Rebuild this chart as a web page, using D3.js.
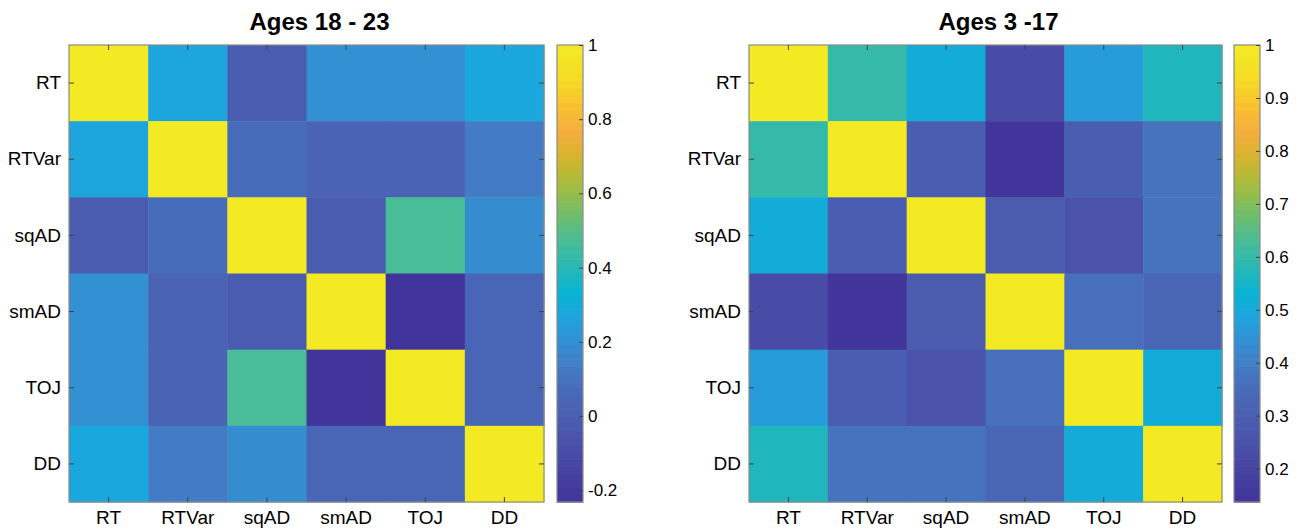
<!DOCTYPE html>
<meta charset="utf-8">
<script src="https://d3js.org/d3.v7.min.js"></script>
<style>
  body { margin: 0; background: #fff; }
  text { font-family: "Liberation Sans", Arial, sans-serif; fill: #000; }
</style>
<div id="my_dataviz"></div>
<script>

// variable names (rows and columns)
var labels = ["RT", "RTVar", "sqAD", "smAD", "TOJ", "DD"];

// correlation matrix, ages 18 - 23
var adultCorr = [
  [1.00, 0.27, -0.01, 0.20, 0.20, 0.28],
  [0.27, 1.00, 0.08, 0.03, 0.03, 0.13],
  [-0.01, 0.08, 1.00, -0.01, 0.47, 0.19],
  [0.20, 0.03, -0.01, 1.00, -0.232, 0.04],
  [0.20, 0.03, 0.47, -0.232, 1.00, 0.04],
  [0.28, 0.13, 0.19, 0.04, 0.04, 1.00]
];

// correlation matrix, ages 3 - 17
var childCorr = [
  [1.00, 0.60, 0.51, 0.23, 0.47, 0.57],
  [0.60, 1.00, 0.30, 0.137, 0.30, 0.37],
  [0.51, 0.30, 1.00, 0.29, 0.255, 0.37],
  [0.23, 0.137, 0.29, 1.00, 0.36, 0.33],
  [0.47, 0.30, 0.255, 0.36, 1.00, 0.51],
  [0.57, 0.37, 0.37, 0.33, 0.51, 1.00]
];

// colorbar tick values
var adultTicks = [-0.2, 0, 0.2, 0.4, 0.6, 0.8, 1];
var childTicks = [0.2, 0.3, 0.4, 0.5, 0.6, 0.7, 0.8, 0.9, 1];

// parula-like colormap, as it looks in the picture (0 = bottom, 1 = top)
var cmapPos = [0, 0.08, 0.16, 0.24, 0.30, 0.36, 0.41, 0.46, 0.52, 0.57, 0.63, 0.69, 0.75, 0.81, 0.87, 0.93, 1];
var cmapCol = ["#41349a", "#4745a2", "#4b58ad", "#4969b7", "#427dc5", "#3093d5", "#1ca6de", "#08b3d2",
               "#2bb9b2", "#48bd98", "#6fbd6a", "#a3bc42", "#d2b52c", "#f4ad3e", "#f9c22f", "#f5dd25", "#f3ea24"];
var cmap = d3.scaleLinear().domain(cmapPos).range(cmapCol).clamp(true);

var W = 1299, H = 529;
var svg = d3.select("#my_dataviz")
  .append("svg")
    .attr("width", W)
    .attr("height", H);

function drawPanel(opt) {
  var g = svg.append("g");
  var left = opt.left, top = 45, width = opt.width, height = 457;

  var x = d3.scaleBand().domain(labels).range([left, left + width]);
  var y = d3.scaleBand().domain(labels).range([top, top + height]);

  var flat = d3.merge(opt.data);
  var ext = d3.extent(flat);
  var toT = d3.scaleLinear().domain(ext).range([0, 1]);

  // cells
  var cells = [];
  opt.data.forEach(function(row, i) {
    row.forEach(function(v, j) { cells.push({r: labels[i], c: labels[j], v: v}); });
  });
  g.selectAll("rect.cell")
    .data(cells)
    .enter()
    .append("rect")
      .attr("class", "cell")
      .attr("x", function(d) { return x(d.c); })
      .attr("y", function(d) { return y(d.r); })
      .attr("width", x.bandwidth() + 0.5)
      .attr("height", y.bandwidth() + 0.5)
      .attr("fill", function(d) { return cmap(toT(d.v)); });

  // box
  g.append("rect")
    .attr("x", left).attr("y", top)
    .attr("width", width).attr("height", height)
    .attr("fill", "none").attr("stroke", "#8a8a8a").attr("stroke-width", 1.2);

  // axes, ticks pointing inside
  var xb = g.append("g").attr("transform", "translate(0," + (top + height) + ")")
    .call(d3.axisBottom(x).tickSize(-5).tickPadding(9));
  var yl = g.append("g").attr("transform", "translate(" + left + ",0)")
    .call(d3.axisLeft(y).tickSize(-5).tickPadding(8));
  var xt = g.append("g").attr("transform", "translate(0," + top + ")")
    .call(d3.axisTop(x).tickSize(-5).tickFormat(""));
  var yr = g.append("g").attr("transform", "translate(" + (left + width) + ",0)")
    .call(d3.axisRight(y).tickSize(-5).tickFormat(""));
  [xb, yl, xt, yr].forEach(function(a) {
    a.select(".domain").remove();
    a.selectAll(".tick line").attr("stroke", "#444");
    a.selectAll("text").style("font-size", "19px").attr("fill", "#000");
  });

  // colorbar
  var cbLeft = opt.cbLeft, cbW = 26;
  var cy = d3.scaleLinear().domain(ext).range([top + height, top]);
  var nLev = 64;
  var levels = d3.range(nLev);
  g.selectAll("rect.lev")
    .data(levels)
    .enter()
    .append("rect")
      .attr("class", "lev")
      .attr("x", cbLeft)
      .attr("y", function(k) { return top + height - (k + 1) * height / nLev; })
      .attr("width", cbW)
      .attr("height", height / nLev + 0.6)
      .attr("fill", function(k) { return cmap((k + 0.5) / nLev); });
  g.append("rect")
    .attr("x", cbLeft).attr("y", top)
    .attr("width", cbW).attr("height", height)
    .attr("fill", "none").attr("stroke", "#8a8a8a").attr("stroke-width", 1.2);
  var cb = g.append("g").attr("transform", "translate(" + (cbLeft + cbW) + ",0)")
    .call(d3.axisRight(cy).tickValues(opt.ticks).tickSize(-4).tickPadding(5)
      .tickFormat(function(d) { return String(+d.toFixed(1)); }));
  cb.select(".domain").remove();
  cb.selectAll(".tick line").attr("stroke", "#444");
  cb.selectAll("text").style("font-size", "17px").attr("fill", "#000");

  // title
  g.append("text")
    .attr("x", left + width / 2 + 13)
    .attr("y", 30)
    .attr("text-anchor", "middle")
    .style("font-size", "24px")
    .style("font-weight", "bold")
    .text(opt.title);
}

drawPanel({title: "Ages 18 - 23", data: adultCorr, ticks: adultTicks, left: 69, width: 475, cbLeft: 557});
drawPanel({title: "Ages 3 -17", data: childCorr, ticks: childTicks, left: 749, width: 473, cbLeft: 1234});

</script>
